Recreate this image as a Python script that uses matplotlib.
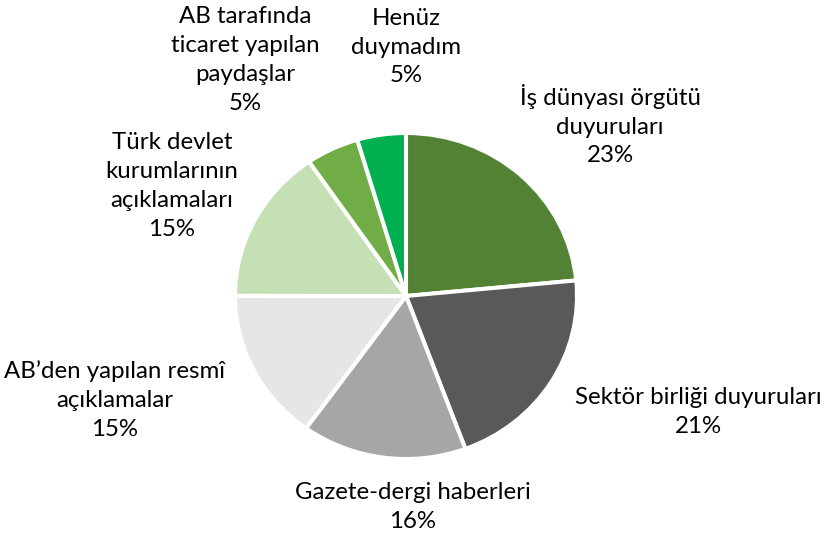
import matplotlib.pyplot as plt

# slice order: clockwise from 12 o'clock
labels = [
    "İş dünyası örgütü\nduyuruları",
    "Sektör birliği duyuruları",
    "Gazete-dergi haberleri",
    "AB’den yapılan resmî\naçıklamalar",
    "Türk devlet\nkurumlarının\naçıklamaları",
    "AB tarafında\nticaret yapılan\npaydaşlar",
    "Henüz\nduymadım",
]
values = [23.5, 20.9, 15.6, 15.1, 15.4, 5.0, 4.6]
colors = ["#548235", "#595959", "#A6A6A6", "#E6E6E6", "#C5E0B4", "#70AD47", "#00B050"]

# label block centres in pixels (x, y from top)
label_px = [(610, 125), (698, 412), (413, 507), (115, 400), (172, 186), (245, 60), (406, 47)]

W, H = 824, 537
cx, cy = 406, 296
sx, sy = 171, 163  # pixels per unit (pie is slightly wider than tall)

fig = plt.figure(figsize=(W / 100, H / 100), dpi=100)
ax = fig.add_axes([0, 0, 1, 1])
ax.pie(
    values,
    colors=colors,
    startangle=90,
    counterclock=False,
    radius=1,
    wedgeprops=dict(edgecolor="white", linewidth=2.9),
)
ax.set_aspect("auto")
ax.set_xlim(-cx / sx, (W - cx) / sx)
ax.set_ylim(-(H - cy) / sy, cy / sy)
ax.axis("off")

total = sum(values)
for lab, v, (px, py) in zip(labels, values, label_px):
    pct = 100 * v / total
    ax.text(
        (px - cx) / sx,
        (cy - py) / sy,
        f"{lab}\n{pct:.0f}%",
        ha="center",
        va="center",
        fontsize=17.3,
        family="Lato",
        color="black",
        linespacing=1.47,
    )

fig.savefig("out.png", dpi=100, facecolor="white")
